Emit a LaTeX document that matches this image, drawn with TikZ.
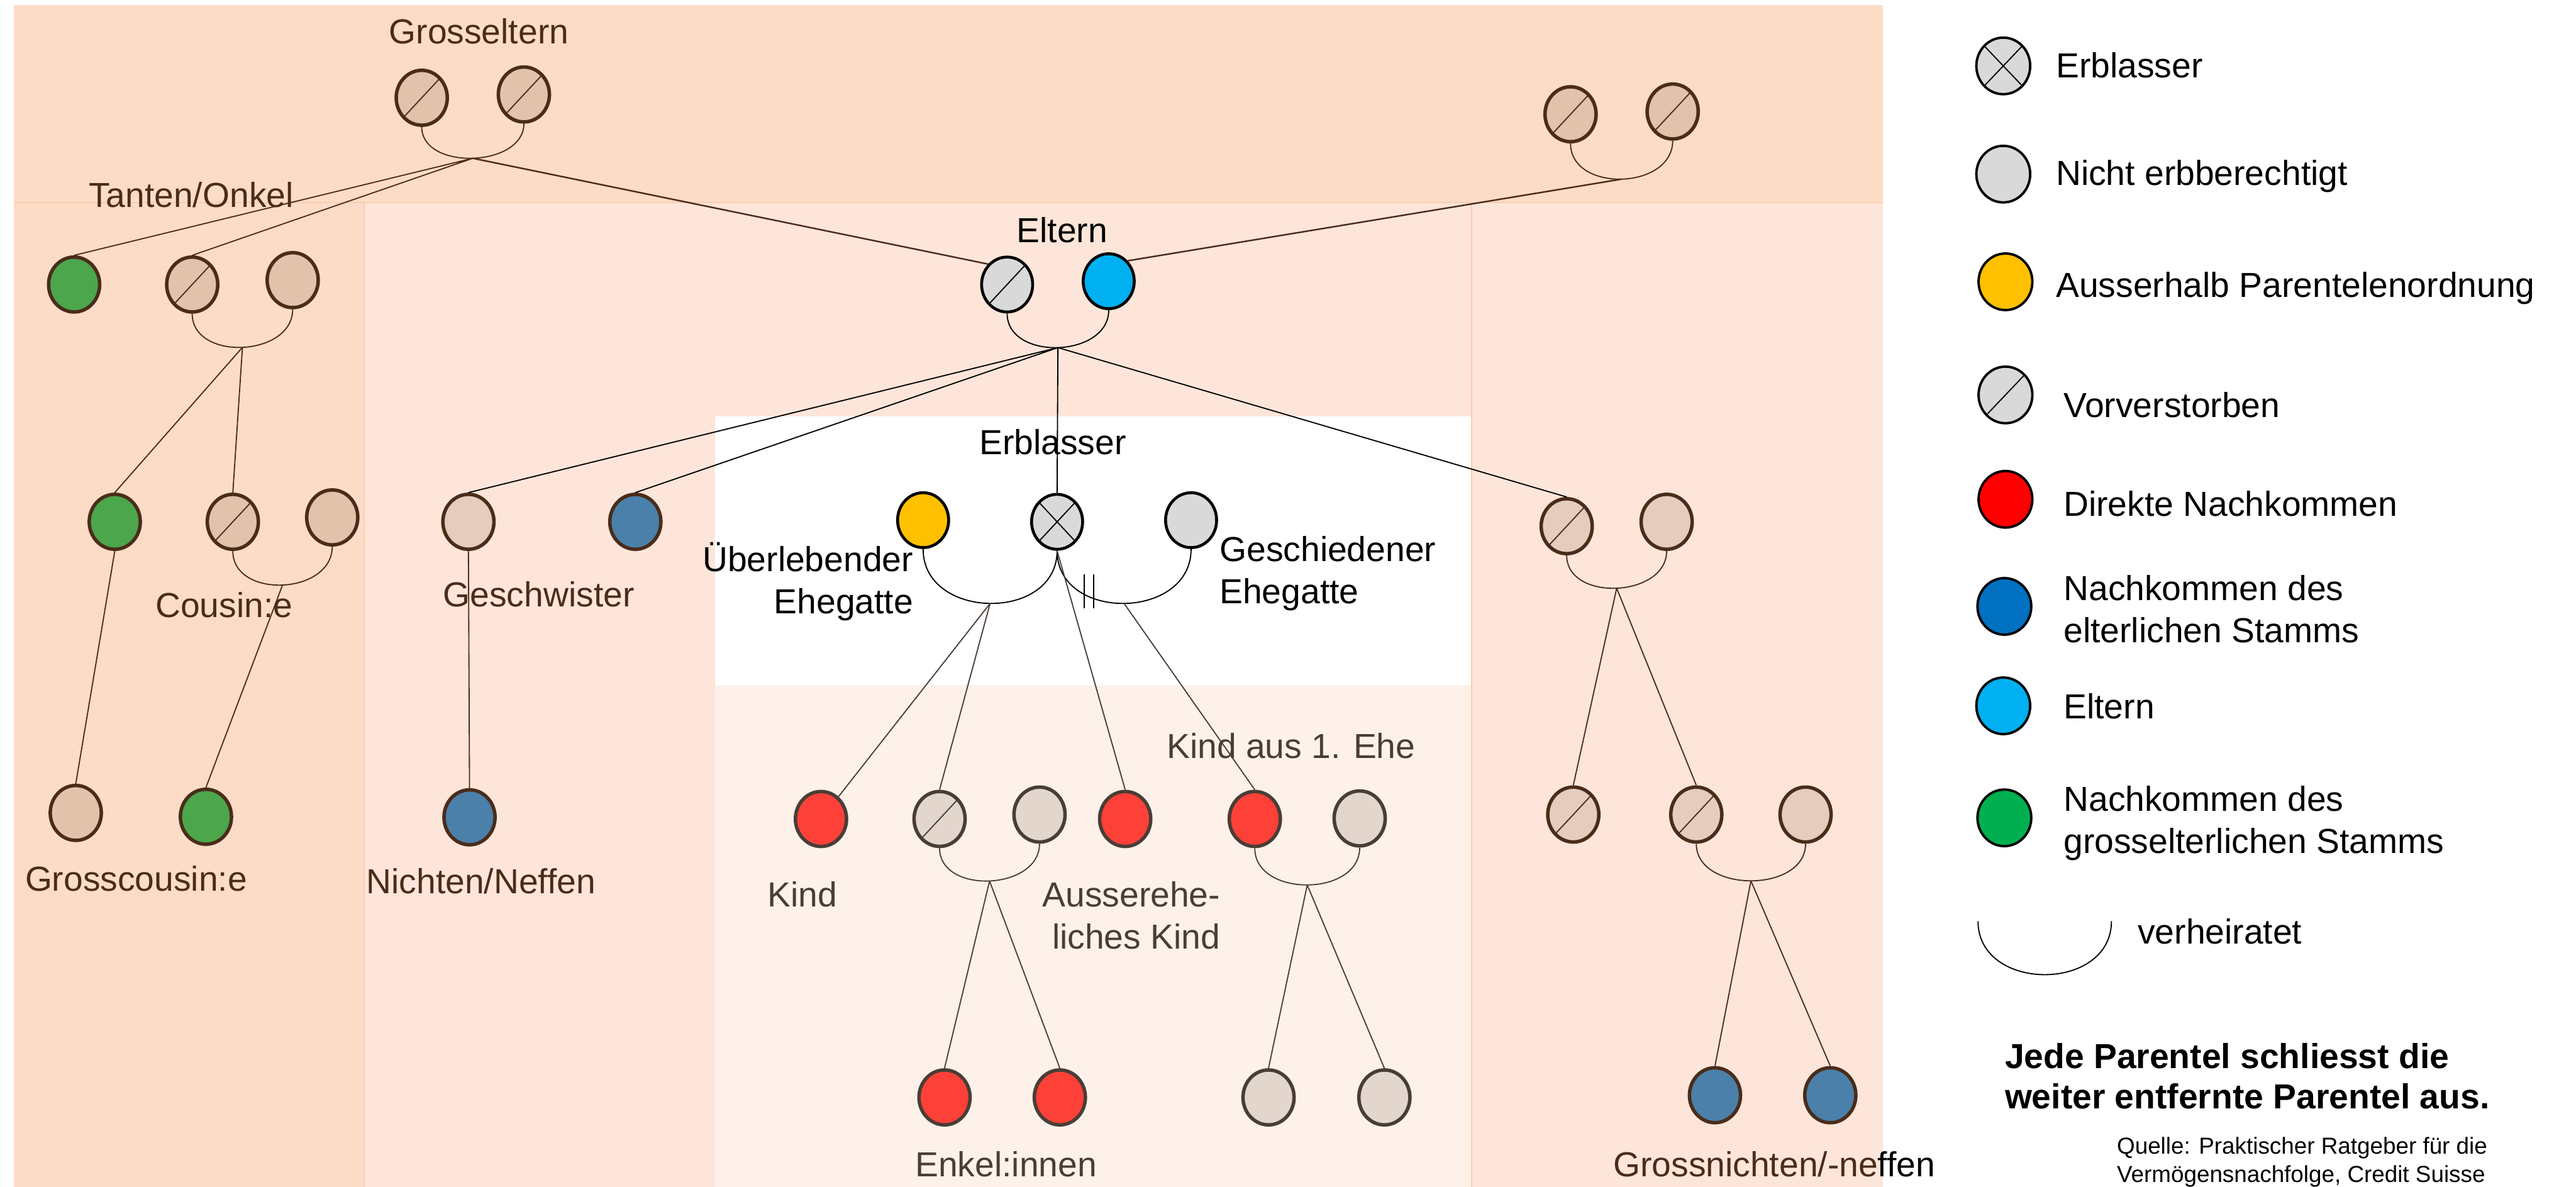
\documentclass[tikz,border=0pt]{standalone}
\usepackage{fontspec}
\setmainfont{Liberation Sans}
\usetikzlibrary{shapes.geometric}
\definecolor{bandA}{HTML}{FDDCC7}
\definecolor{bandB}{HTML}{FEE5D9}
\definecolor{bandC}{HTML}{FDF1EA}
\definecolor{bandline}{HTML}{FBCDAF}
\definecolor{brn}{HTML}{4A2C1A}
\definecolor{gbrn}{HTML}{4A3D36}
\definecolor{tanfill}{HTML}{E2C2AB}
\definecolor{tanlt}{HTML}{E4CCBE}
\definecolor{beige}{HTML}{E2D6CD}
\definecolor{kidred}{HTML}{FE4138}
\definecolor{kidgreen}{HTML}{4CA64C}
\definecolor{steel}{HTML}{4A80AA}
\definecolor{lgray}{HTML}{D9D9D9}
\definecolor{sky}{HTML}{00B0F0}
\definecolor{amber}{HTML}{FFC000}
\definecolor{lgred}{HTML}{FF0000}
\definecolor{lgblue}{HTML}{0070C0}
\definecolor{lggreen}{HTML}{00B050}
\begin{document}
\begin{tikzpicture}[line width=.6pt,
    person/.style={ellipse,minimum width=.93cm,minimum height=1cm,inner sep=0pt,line width=1.8pt},
    bp/.style={person,draw=brn},
    cp/.style={person,draw=gbrn},
    kp/.style={person,draw=black,line width=1.5pt},
    lg/.style={ellipse,minimum width=.98cm,minimum height=1.03cm,inner sep=0pt,draw=black,line width=1.25pt},
    dead/.style={path picture={\draw[#1,line width=.6pt] (path picture bounding box.south west) -- (path picture bounding box.north east);}},
    dead/.default=brn,
    cross/.style={path picture={\draw[line width=.6pt] (path picture bounding box.south west) -- (path picture bounding box.north east)
        (path picture bounding box.north west) -- (path picture bounding box.south east);}},
    lbl/.style={font=\fontsize{18}{21.8}\selectfont,inner sep=0pt},
    ]
    \useasboundingbox (0,0) rectangle (46.91,-21.61);
    \fill[bandA] (.25,-.09) rectangle (34.29,-3.69);
    \fill[bandA] (.25,-3.69) rectangle (6.63,-21.61);
    \fill[bandB] (6.63,-3.69) rectangle (13.02,-21.61);
    \fill[bandB] (13.02,-3.69) rectangle (26.80,-7.58);
    \fill[bandC] (13.02,-12.47) rectangle (26.80,-21.61);
    \fill[bandB] (26.80,-3.69) rectangle (34.29,-21.61);
    \draw[bandline] (.25,-3.69) -- (34.29,-3.69)
                    (6.63,-3.69) -- (6.63,-21.61)
                    (26.80,-3.69) -- (26.80,-21.61);

    \node[bp,fill=tanfill,dead] (gp1) at (7.68,-1.78) {};
    \node[bp,fill=tanfill,dead] (gp2) at (9.54,-1.72) {};
    \node[bp,fill=tanfill,dead] (rgp1) at (28.60,-2.08) {};
    \node[bp,fill=tanfill,dead] (rgp2) at (30.46,-2.03) {};
    \node[bp,fill=kidgreen] (aunt1) at (1.35,-5.18) {};
    \node[bp,fill=tanfill,dead] (aunt2) at (3.50,-5.18) {};
    \node[bp,fill=tanfill] (aunt2sp) at (5.33,-5.10) {};
    \node[kp,fill=lgray,dead=black] (father) at (18.34,-5.18) {};
    \node[kp,fill=sky] (mother) at (20.19,-5.12) {};
    \node[bp,fill=kidgreen] (cous1) at (2.09,-9.50) {};
    \node[bp,fill=tanfill,dead] (cous2) at (4.24,-9.50) {};
    \node[bp,fill=tanfill] (cous2sp) at (6.05,-9.42) {};
    \node[bp,fill=tanlt] (sib1) at (8.53,-9.50) {};
    \node[bp,fill=steel] (sib2) at (11.57,-9.50) {};
    \node[kp,fill=amber] (spouse) at (16.81,-9.47) {};
    \node[kp,fill=lgray,cross] (erbl) at (19.25,-9.50) {};
    \node[kp,fill=lgray] (exsp) at (21.69,-9.47) {};
    \node[bp,fill=tanlt,dead] (rsib) at (28.53,-9.58) {};
    \node[bp,fill=tanlt] (rsibsp) at (30.35,-9.50) {};
    \node[bp,fill=tanfill] (gcous1) at (1.38,-14.80) {};
    \node[bp,fill=kidgreen] (gcous2) at (3.75,-14.87) {};
    \node[bp,fill=steel] (nephew) at (8.55,-14.88) {};
    \node[cp,fill=kidred] (kind) at (14.95,-14.91) {};
    \node[cp,fill=beige,dead=gbrn] (kind2) at (17.11,-14.91) {};
    \node[cp,fill=beige] (kind2sp) at (18.93,-14.83) {};
    \node[cp,fill=kidred] (ausser) at (20.49,-14.91) {};
    \node[cp,fill=kidred] (kind3) at (22.85,-14.91) {};
    \node[cp,fill=beige] (kind3sp) at (24.76,-14.90) {};
    \node[bp,fill=tanlt,dead] (rch1) at (28.65,-14.83) {};
    \node[bp,fill=tanlt,dead] (rch2) at (30.89,-14.83) {};
    \node[bp,fill=tanlt] (rch2sp) at (32.88,-14.83) {};
    \node[cp,fill=kidred] (enk1) at (17.20,-19.98) {};
    \node[cp,fill=kidred] (enk2) at (19.30,-19.98) {};
    \node[cp,fill=beige] (ggr1) at (23.10,-19.98) {};
    \node[cp,fill=beige] (ggr2) at (25.21,-19.98) {};
    \node[bp,fill=steel] (gn1) at (31.23,-19.94) {};
    \node[bp,fill=steel] (gn2) at (33.33,-19.94) {};

    \draw[brn] (gp1.south) .. controls +(0,-.8) and +(0,-.8) .. (gp2.south) coordinate[pos=.5] (gpm);
    \draw[brn] (rgp1.south) .. controls +(0,-.9) and +(0,-.9) .. (rgp2.south) coordinate[pos=.5] (rgpm);
    \draw[brn] (aunt2.south) .. controls +(0,-.87) and +(0,-.87) .. (aunt2sp.south) coordinate[pos=.5] (auntm);
    \draw[brn] (cous2.south) .. controls +(0,-.88) and +(0,-.88) .. (cous2sp.south) coordinate[pos=.5] (cousm);
    \draw (father.south) .. controls +(0,-.87) and +(0,-.87) .. (mother.south) coordinate[pos=.5] (elm);
    \draw (spouse.south) .. controls +(0,-1.3) and +(0,-1.3) .. (erbl.south) coordinate[pos=.5] (spm);
    \draw (erbl.south) .. controls +(0,-1.3) and +(0,-1.3) .. (exsp.south) coordinate[pos=.5] (dvm);
    \draw[gbrn] (kind2.south) .. controls +(0,-.85) and +(0,-.85) .. (kind2sp.south) coordinate[pos=.5] (k2m);
    \draw[gbrn] (kind3.south) .. controls +(0,-.9) and +(0,-.9) .. (kind3sp.south) coordinate[pos=.5] (k3m);
    \draw[brn] (rsib.south) .. controls +(0,-.85) and +(0,-.85) .. (rsibsp.south) coordinate[pos=.5] (rsm);
    \draw[brn] (rch2.south) .. controls +(0,-.9) and +(0,-.9) .. (rch2sp.south) coordinate[pos=.5] (rcm);

    \draw[brn] (gpm) -- (aunt1.north) (gpm) -- (aunt2.north);
    \draw[brn,line width=.8pt] (gpm) -- (father.north west);
    \draw[brn,line width=.8pt] (rgpm) -- (mother.north east);
    \draw[brn] (auntm) -- (cous1.north) (auntm) -- (cous2.north);
    \draw[brn] (cous1.south) -- (gcous1.north);
    \draw[brn] (cousm) -- (gcous2.north);
    \draw (elm) -- (sib1.north) (elm) -- (sib2.north) (elm) -- (erbl.north) (elm) -- (rsib.north);
    \draw[brn] (sib1.south) -- (nephew.north);
    \draw[gbrn] (spm) -- (kind) (spm) -- (kind2.north);
    \draw[gbrn] (erbl.south) -- (ausser.north);
    \draw[gbrn] (dvm) -- (kind3.north);
    \draw (19.74,-10.46) -- (19.74,-11.08) (19.92,-10.46) -- (19.92,-11.08);
    \draw[gbrn] (k2m) -- (enk1.north) (k2m) -- (enk2.north);
    \draw[gbrn] (k3m) -- (ggr1.north) (k3m) -- (ggr2.north);
    \draw[brn] (rsm) -- (rch1.north) (rsm) -- (rch2.north);
    \draw[brn] (rcm) -- (gn1.north) (rcm) -- (gn2.north);

    \node[lbl,text=brn,anchor=base] (tGross) at (8.72,-.80) {Grosseltern};
    \node[lbl,text=brn,anchor=base] (tTanten) at (3.48,-3.77) {Tanten/Onkel};
    \node[lbl,text=brn,anchor=base] (tCous) at (4.08,-11.24) {Cousin:e};
    \node[lbl,text=brn,anchor=base] (tGcous) at (2.48,-16.22) {Grosscousin:e};
    \node[lbl,text=brn,anchor=base] (tGesch) at (9.81,-11.05) {Geschwister};
    \node[lbl,text=brn,anchor=base] (tNicht) at (8.76,-16.27) {Nichten/Neffen};
    \node[lbl,anchor=base] (tEltern) at (19.34,-4.42) {Eltern};
    \node[lbl,anchor=base] (tErbl) at (19.17,-8.28) {Erblasser};
    \node[lbl,align=right,anchor=base east] (tUeb) at (16.64,-11.17) {Überlebender\\Ehegatte};
    \node[lbl,align=left,anchor=base west] (tGeschied) at (22.20,-10.99) {Geschiedener\\Ehegatte};
    \node[lbl,text=gbrn,anchor=base] (tKind) at (14.61,-16.51) {Kind};
    \node[lbl,text=gbrn,align=right,anchor=base east] (tAusser) at (22.23,-17.28) {Ausserehe-\\liches Kind};
    \node[lbl,text=gbrn,anchor=base] (tKind1) at (23.51,-13.81) {Kind aus 1. Ehe};
    \node[lbl,text=gbrn,anchor=base] (tEnkel) at (18.32,-21.42) {Enkel:innen};
    \node[lbl,anchor=base] (tGnn) at (32.31,-21.42) {\textcolor{brn}{Grossnichten/-ne}ffen};

    \node[lg,fill=lgray,cross] (lgErbl) at (36.48,-1.20) {};
    \node[lg,fill=lgray] (lgNicht) at (36.48,-3.17) {};
    \node[lg,fill=amber] (lgAusser) at (36.52,-5.13) {};
    \node[lg,fill=lgray,dead=black] (lgVor) at (36.52,-7.19) {};
    \node[lg,fill=lgred] (lgDirekt) at (36.52,-9.09) {};
    \node[lg,fill=lgblue] (lgElterl) at (36.50,-11.04) {};
    \node[lg,fill=sky] (lgEltern) at (36.48,-12.85) {};
    \node[lg,fill=lggreen] (lgGross) at (36.50,-14.89) {};
    \coordinate (lgWa) at (36.02,-16.77);
    \coordinate (lgWb) at (38.45,-16.77);
    \draw (lgWa) .. controls +(0,-1.3) and +(0,-1.3) .. (lgWb);

    \node[lbl,anchor=base west] (tlErbl) at (37.43,-1.42) {Erblasser};
    \node[lbl,anchor=base west] (tlNicht) at (37.43,-3.37) {Nicht erbberechtigt};
    \node[lbl,anchor=base west] (tlAusser) at (37.43,-5.41) {Ausserhalb Parentelenordnung};
    \node[lbl,anchor=base west] (tlVor) at (37.57,-7.60) {Vorverstorben};
    \node[lbl,anchor=base west] (tlDirekt) at (37.57,-9.40) {Direkte Nachkommen};
    \node[lbl,align=left,anchor=base west] (tlElterl) at (37.57,-11.70) {Nachkommen des\\elterlichen Stamms};
    \node[lbl,anchor=base west] (tlEltern) at (37.57,-13.09) {Eltern};
    \node[lbl,align=left,anchor=base west] (tlGross) at (37.57,-15.53) {Nachkommen des\\grosselterlichen Stamms};
    \node[lbl,anchor=base west] (tlVerh) at (38.92,-17.18) {verheiratet};
    \node[lbl,font=\fontsize{18}{21}\selectfont\bfseries,align=left,anchor=base west] (tlRegel) at (36.50,-20.19)
        {Jede Parentel schliesst die\\weiter entfernte Parentel aus.};
    \node[inner sep=0pt,font=\fontsize{12}{14.4}\selectfont,align=left,anchor=base west] (tlQuelle) at (38.54,-21.52)
        {Quelle: Praktischer Ratgeber für die\\Vermögensnachfolge, Credit Suisse};
\end{tikzpicture}
\end{document}
